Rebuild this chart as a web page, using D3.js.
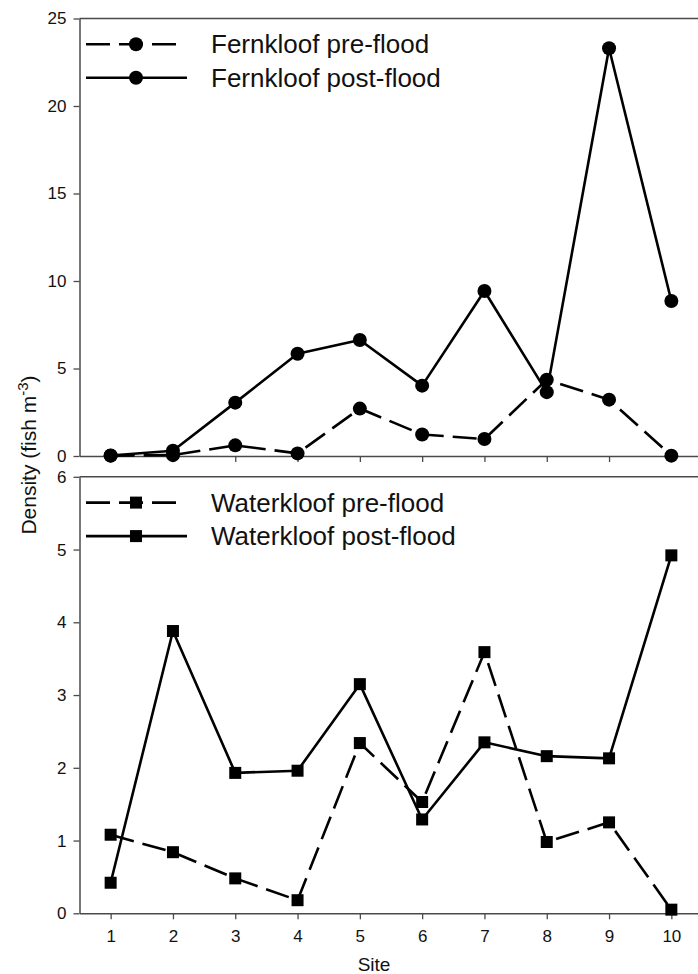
<!DOCTYPE html>
<html>
<head>
<meta charset="utf-8">
<script src="https://cdn.jsdelivr.net/npm/d3@7/dist/d3.min.js"></script>
<style>
  html, body { margin: 0; padding: 0; background: #fff; }
  svg { display: block; }
  text { font-family: Arial, "Liberation Sans", sans-serif; fill: #111; }
</style>
</head>
<body>
<svg id="chart" width="698" height="974"></svg>
<script>
// Fish density per site, before and after the flood
const sites = [1, 2, 3, 4, 5, 6, 7, 8, 9, 10];
const fernPre   = [0.02, 0.05, 0.61, 0.15, 2.71, 1.23, 0.97, 4.36, 3.22, 0.02];
const fernPost  = [0.03, 0.30, 3.05, 5.84, 6.63, 4.02, 9.43, 3.65, 23.3, 8.86];
const waterPre  = [1.08, 0.84, 0.48, 0.18, 2.34, 1.53, 3.59, 0.98, 1.25, 0.05];
const waterPost = [0.42, 3.88, 1.93, 1.96, 3.15, 1.29, 2.35, 2.16, 2.13, 4.92];
const topTicks = [0, 5, 10, 15, 20, 25];
const bottomTicks = [0, 1, 2, 3, 4, 5, 6];
const legendTop = ["Fernkloof pre-flood", "Fernkloof post-flood"];
const legendBottom = ["Waterkloof pre-flood", "Waterkloof post-flood"];

const svg = d3.select("#chart");
const axisColor = "#4a4a4a";
const dash = "24,9";

const x = d3.scaleLinear().domain([0.5, 10.5]).range([79.5, 702.5]);
const yTop = d3.scaleLinear().domain([0, 25]).range([456, 18.5]);
const yBot = d3.scaleLinear().domain([0, 6]).range([913.3, 476.8]);

function styleAxis(g) {
  g.selectAll("path.domain").attr("stroke", axisColor).attr("stroke-width", 1.5);
  g.selectAll(".tick line").attr("stroke", axisColor).attr("stroke-width", 1.3);
  g.selectAll(".tick text").attr("font-size", 17).attr("fill", "#111")
    .attr("font-family", "Arial, 'Liberation Sans', sans-serif");
}

function panel(y, ticks, pre, post, marker, labels, showXLabels) {
  const [y0, y1] = y.range();
  // top frame line
  svg.append("line")
    .attr("x1", x.range()[0]).attr("x2", 698)
    .attr("y1", y1).attr("y2", y1)
    .attr("stroke", axisColor).attr("stroke-width", 1.5);

  const ya = svg.append("g").attr("transform", `translate(${x.range()[0]},0)`)
    .call(d3.axisLeft(y).tickValues(ticks).tickFormat(d3.format("d"))
      .tickSize(6).tickSizeOuter(0).tickPadding(7));
  styleAxis(ya);

  const xa = svg.append("g").attr("transform", `translate(0,${y0})`)
    .call(d3.axisBottom(x).tickValues(sites).tickSize(6).tickSizeOuter(0).tickPadding(11)
      .tickFormat(showXLabels ? d3.format("d") : () => ""));
  styleAxis(xa);

  const line = d3.line().x((d, i) => x(sites[i])).y(d => y(d));

  const series = [
    { values: pre, dashed: true },
    { values: post, dashed: false }
  ];
  series.forEach(s => {
    svg.append("path").datum(s.values)
      .attr("d", line)
      .attr("fill", "none").attr("stroke", "#000").attr("stroke-width", 2.6)
      .attr("stroke-linejoin", "round")
      .attr("stroke-dasharray", s.dashed ? dash : null);
    drawMarkers(s.values.map((v, i) => [x(sites[i]), y(v)]), marker);
  });

  // legend
  const legY = [y1 + 25.8, y1 + 59.3];
  labels.forEach((lab, i) => {
    svg.append("line")
      .attr("x1", 86).attr("x2", i === 0 ? 177 : 187)
      .attr("y1", legY[i]).attr("y2", legY[i])
      .attr("stroke", "#000").attr("stroke-width", 2.6)
      .attr("stroke-dasharray", i === 0 ? dash : null);
    drawMarkers([[136, legY[i]]], marker);
    svg.append("text").attr("x", 211).attr("y", legY[i]).attr("dy", "0.35em")
      .attr("font-size", 26).text(lab);
  });
}

function drawMarkers(pts, marker) {
  if (marker === "circle") {
    svg.append("g").selectAll("circle").data(pts).join("circle")
      .attr("cx", d => d[0]).attr("cy", d => d[1]).attr("r", 7).attr("fill", "#000");
  } else {
    const s = 12;
    svg.append("g").selectAll("rect").data(pts).join("rect")
      .attr("x", d => d[0] - s / 2).attr("y", d => d[1] - s / 2)
      .attr("width", s).attr("height", s).attr("fill", "#000");
  }
}

panel(yTop, topTicks, fernPre, fernPost, "circle", legendTop, false);
panel(yBot, bottomTicks, waterPre, waterPost, "square", legendBottom, true);

// axis titles
svg.append("text").attr("x", 374).attr("y", 964).attr("dy", "0.35em")
  .attr("text-anchor", "middle").attr("font-size", 19).text("Site");

const yt = svg.append("text")
  .attr("transform", "translate(36,455) rotate(-90)")
  .attr("text-anchor", "middle").attr("font-size", 21);
yt.append("tspan").text("Density (fish m");
yt.append("tspan").attr("font-size", 15).attr("dy", -8).text("-3");
yt.append("tspan").attr("dy", 8).text(")");
</script>
</body>
</html>
